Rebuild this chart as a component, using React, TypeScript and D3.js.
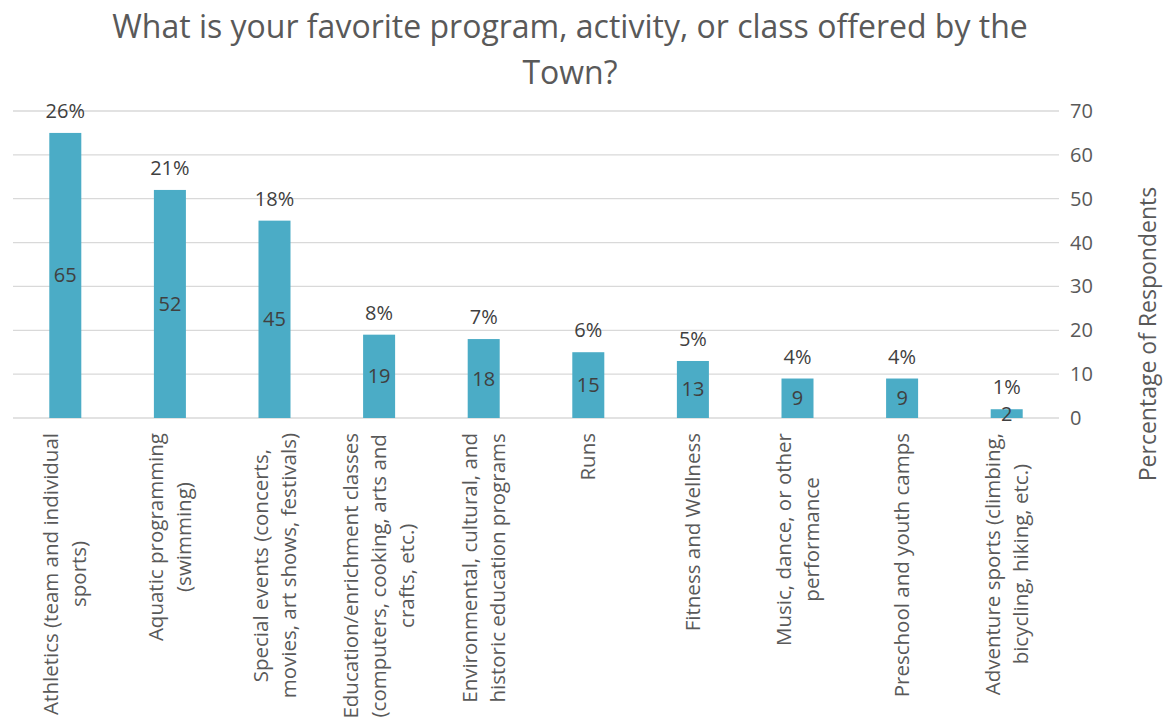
import React, { useEffect, useRef } from "react";
import * as d3 from "d3";

const categories = [
  "Athletics (team and individual\nsports)",
  "Aquatic programming\n(swimming)",
  "Special events (concerts,\nmovies, art shows, festivals)",
  "Education/enrichment classes\n(computers, cooking, arts and\ncrafts, etc.)",
  "Environmental, cultural, and\nhistoric education programs",
  "Runs",
  "Fitness and Wellness",
  "Music, dance, or other\nperformance",
  "Preschool and youth camps",
  "Adventure sports (climbing,\nbicycling, hiking, etc.)",
];
const counts = [65, 52, 45, 19, 18, 15, 13, 9, 9, 2];
const percents = ["26%", "21%", "18%", "8%", "7%", "6%", "5%", "4%", "4%", "1%"];
const yTicks = [0, 10, 20, 30, 40, 50, 60, 70];
const titleLines = ["What is your favorite program, activity, or class offered by the", "Town?"];
const yAxisTitle = "Percentage of Respondents";

const W = 1169;
const H = 725;
const FONT = "'Open Sans', sans-serif";
const TEXT = "#595959";
const DARK = "#404040";
const BAR = "#4BACC6";

export default function App() {
  const ref = useRef<SVGSVGElement>(null);
  useEffect(() => {
    const svg = d3.select(ref.current);
    svg.selectAll("*").remove();
    const x = d3.scaleBand<string>().domain(categories).range([13, 1059]).paddingInner(0.694).paddingOuter(0.347);
    const y = d3.scaleLinear().domain([0, 70]).range([418, 111]);

    // title
    const title = svg.append("text").attr("font-family", FONT).attr("font-size", 32).attr("fill", TEXT).attr("text-anchor", "middle");
    titleLines.forEach((t, i) => title.append("tspan").attr("x", 570).attr("y", 38 + i * 46).text(t));

    // grid
    svg.append("g").selectAll("line").data(yTicks).join("line")
      .attr("x1", 13).attr("x2", 1059).attr("y1", d => y(d)).attr("y2", d => y(d))
      .attr("stroke", "#d9d9d9").attr("stroke-width", 1.3);

    // right tick labels
    svg.append("g").selectAll("text").data(yTicks).join("text")
      .attr("x", 1070).attr("y", d => y(d)).attr("dy", "0.35em")
      .attr("font-family", FONT).attr("font-size", 20).attr("fill", TEXT).text(d => String(d));

    // bars
    svg.append("g").selectAll("rect").data(categories).join("rect")
      .attr("x", d => x(d)!).attr("width", x.bandwidth())
      .attr("y", (d, i) => y(counts[i])).attr("height", (d, i) => y(0) - y(counts[i]))
      .attr("fill", BAR);

    // count labels inside
    svg.append("g").selectAll("text").data(categories).join("text")
      .attr("x", d => x(d)! + x.bandwidth() / 2)
      .attr("y", (d, i) => (y(counts[i]) + y(0)) / 2).attr("dy", "0.35em")
      .attr("text-anchor", "middle").attr("font-family", FONT).attr("font-size", 20).attr("fill", DARK)
      .text((d, i) => String(counts[i]));

    // percent labels above
    svg.append("g").selectAll("text").data(categories).join("text")
      .attr("x", d => x(d)! + x.bandwidth() / 2)
      .attr("y", (d, i) => y(counts[i]) - 15)
      .attr("text-anchor", "middle").attr("font-family", FONT).attr("font-size", 20).attr("fill", DARK)
      .text((d, i) => percents[i]);

    // category labels
    categories.forEach((c) => {
      const lines = c.split("\n");
      const cx = x(c)! + x.bandwidth() / 2;
      const g = svg.append("g").attr("transform", `translate(${cx},433) rotate(-90)`);
      const lh = 28;
      const n = lines.length;
      const texts = lines.map((l, i) =>
        g.append("text").attr("font-family", FONT).attr("font-size", 20.5).attr("fill", TEXT)
          .attr("text-anchor", "middle")
          .attr("y", (i - (n - 1) / 2) * lh).attr("dy", "0.35em").text(l)
      );
      const maxW = Math.max(...texts.map(t => (t.node() as SVGTextElement).getComputedTextLength()));
      texts.forEach(t => t.attr("x", -maxW / 2));
    });

    // y axis title
    svg.append("text").attr("transform", `translate(1148,334) rotate(-90)`)
      .attr("text-anchor", "middle").attr("dy", "0.35em")
      .attr("font-family", FONT).attr("font-size", 23).attr("fill", TEXT).text(yAxisTitle);
  }, []);
  return <svg ref={ref} width={W} height={H} style={{ position: "absolute", left: 0, top: 0, background: "#fff" }} />;
}
